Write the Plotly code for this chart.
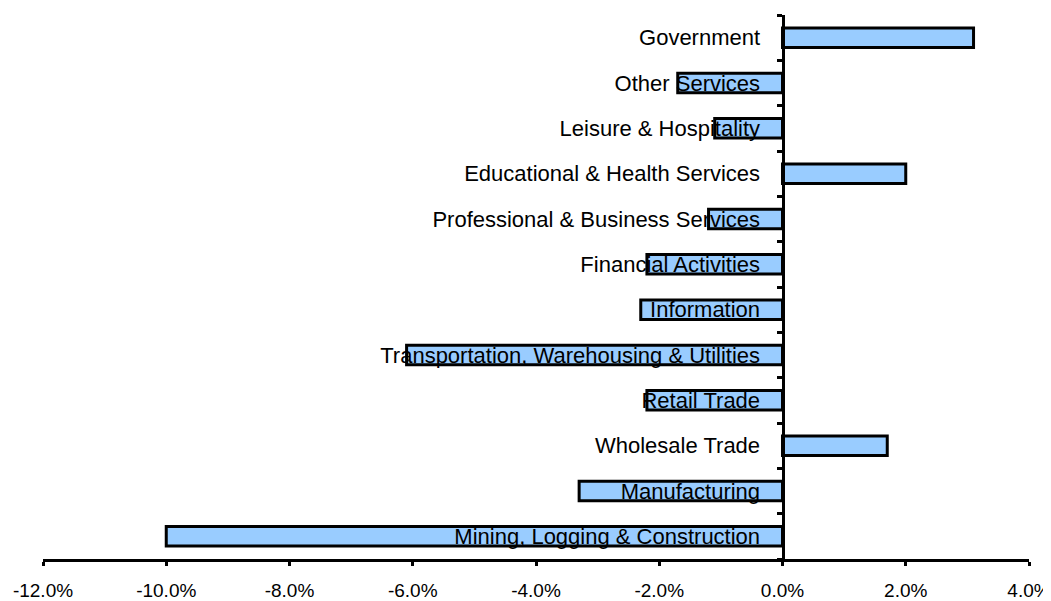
import plotly.graph_objects as go

categories = [
    "Mining, Logging & Construction",
    "Manufacturing",
    "Wholesale Trade",
    "Retail Trade",
    "Transportation, Warehousing & Utilities",
    "Information",
    "Financial Activities",
    "Professional & Business Services",
    "Educational & Health Services",
    "Leisure & Hospitality",
    "Other Services",
    "Government",
]
values = [-10.0, -3.3, 1.7, -2.2, -6.1, -2.3, -2.2, -1.2, 2.0, -1.1, -1.7, 3.1]

x_tick_vals = [-12, -10, -8, -6, -4, -2, 0, 2, 4]
x_tick_text = ["-12.0%", "-10.0%", "-8.0%", "-6.0%", "-4.0%", "-2.0%", "0.0%", "2.0%", "4.0%"]

fig = go.Figure(
    go.Bar(
        x=values,
        y=categories,
        orientation="h",
        marker=dict(color="#99CCFF", line=dict(color="black", width=3)),
    )
)

# the page body has an 8px default margin, so the figure is sized to fit the window
fig.update_layout(
    width=1043,
    height=593,
    margin=dict(l=35, r=22, t=7, b=42, autoexpand=False),
    paper_bgcolor="white",
    plot_bgcolor="white",
    bargap=0.57,
    showlegend=False,
    font=dict(family="Liberation Sans, Arial, sans-serif", size=22, color="black"),
    xaxis=dict(
        range=[-12, 4],
        tickvals=x_tick_vals,
        ticktext=x_tick_text,
        showgrid=False,
        zeroline=False,
        showline=True,
        linecolor="black",
        linewidth=3,
        ticks="outside",
        ticklen=4,
        tickwidth=3,
        tickcolor="black",
        ticklabelstandoff=8,
        automargin=False,
        tickfont=dict(size=19),
    ),
    yaxis=dict(
        type="category",
        anchor="free",
        position=0.75,
        showgrid=False,
        zeroline=False,
        showline=True,
        linecolor="black",
        linewidth=3,
        ticks="outside",
        tickson="boundaries",
        ticklen=5,
        tickwidth=3,
        tickcolor="black",
        ticklabelstandoff=17,
        automargin=False,
        tickfont=dict(size=22),
    ),
)

fig.write_html("out.html")
